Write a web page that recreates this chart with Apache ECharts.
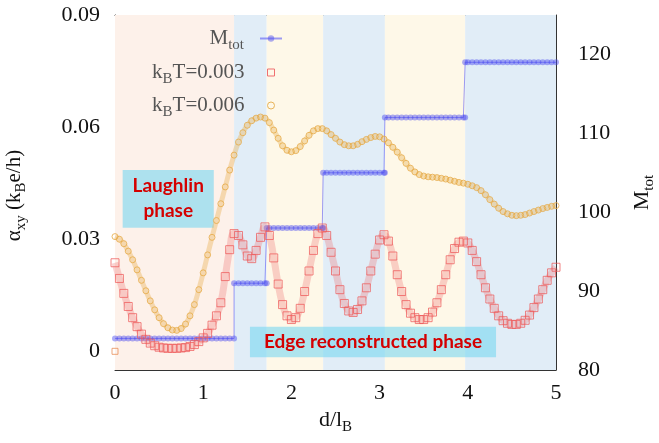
<!DOCTYPE html>
<html><head><meta charset="utf-8">
<script src="https://cdn.jsdelivr.net/npm/echarts@6/dist/echarts.min.js"></script>
<style>html,body{margin:0;padding:0;background:#fff}#c{width:659px;height:443px}</style>
</head><body><div id="c"></div>
<script>
// x positions d/l_B
const dValues = [0,0.05,0.1,0.15,0.2,0.25,0.3,0.35,0.4,0.45,0.5,0.55,0.6,0.65,0.7,0.75,0.8,0.85,0.9,0.95,
1,1.05,1.1,1.15,1.2,1.25,1.3,1.35,1.4,1.45,1.5,1.55,1.6,1.65,1.7,1.75,1.8,1.85,1.9,1.95,
2,2.05,2.1,2.15,2.2,2.25,2.3,2.35,2.4,2.45,2.5,2.55,2.6,2.65,2.7,2.75,2.8,2.85,2.9,2.95,
3,3.05,3.1,3.15,3.2,3.25,3.3,3.35,3.4,3.45,3.5,3.55,3.6,3.65,3.7,3.75,3.8,3.85,3.9,3.95,
4,4.05,4.1,4.15,4.2,4.25,4.3,4.35,4.4,4.45,4.5,4.55,4.6,4.65,4.7,4.75,4.8,4.85,4.9,4.95,5];
// alpha_xy, kBT = 0.003
const alpha003 = [0.0237,0.0195,0.0155,0.0120,0.0090,0.0066,0.0046,0.0032,0.0022,0.0015,
0.0011,0.0009,0.0008,0.0008,0.0008,0.0009,0.0010,0.0013,0.0018,0.0026,
0.0036,0.0048,0.0070,0.0095,0.0130,0.0200,0.0272,0.0315,0.0310,0.0285,
0.0255,0.0248,0.0270,0.0305,0.0333,0.0310,0.0250,0.0180,0.0125,0.0095,
0.0085,0.0090,0.0115,0.0160,0.0215,0.0270,0.0315,0.0330,0.0310,0.0265,
0.0215,0.0165,0.0128,0.0108,0.0104,0.0112,0.0135,0.0170,0.0215,0.0260,
0.0298,0.0312,0.0295,0.0255,0.0205,0.0160,0.0125,0.0102,0.0090,0.0085,
0.0085,0.0090,0.0105,0.0130,0.0165,0.0205,0.0245,0.0275,0.0292,0.0295,
0.0290,0.0270,0.0240,0.0205,0.0170,0.0140,0.0115,0.0095,0.0082,0.0075,
0.0072,0.0072,0.0075,0.0083,0.0097,0.0117,0.0140,0.0165,0.0190,0.0210,0.0225];
// alpha_xy, kBT = 0.006
const alpha006 = [0.0307,0.0300,0.0288,0.0268,0.0245,0.0218,0.0190,0.0162,0.0135,0.0111,
0.0090,0.0074,0.0063,0.0057,0.0056,0.0061,0.0073,0.0095,0.0125,0.0165,
0.0210,0.0258,0.0305,0.0350,0.0395,0.0440,0.0485,0.0525,0.0560,0.0585,
0.0605,0.0617,0.0624,0.0627,0.0624,0.0612,0.0592,0.0570,0.0550,0.0538,
0.0534,0.0537,0.0548,0.0563,0.0578,0.0590,0.0596,0.0596,0.0590,0.0580,
0.0570,0.0560,0.0553,0.0550,0.0550,0.0554,0.0561,0.0567,0.0572,0.0575,
0.0574,0.0568,0.0558,0.0546,0.0533,0.0518,0.0503,0.0490,0.0480,0.0473,
0.0469,0.0467,0.0466,0.0465,0.0463,0.0461,0.0458,0.0455,0.0452,0.0450,
0.0447,0.0443,0.0438,0.0430,0.0419,0.0406,0.0394,0.0383,0.0374,0.0368,
0.0364,0.0363,0.0364,0.0366,0.0370,0.0374,0.0378,0.0382,0.0385,0.0388,0.0390];
// M_tot plateaus
const mSegBounds = [0, 1.35, 1.72, 2.36, 3.06, 3.97, 5.0];
const mTotLevels = [84, 91, 98, 105, 112, 119];
// background phase bands
const bandBounds = [0, 1.35, 1.72, 2.36, 3.06, 3.97, 5.0];
const bandKinds = ['pink', 'blue', 'yellow', 'blue', 'yellow', 'blue'];
const originPoint = [[0, 0]];
// ticks
const xLabelTicks = [0, 1, 2, 3, 4, 5];
const xMinorTicks = [0,0.5,1,1.5,2,2.5,3,3.5,4,4.5,5];
const leftLabelTicks = [0, 0.03, 0.06, 0.09];
const leftMinorTicks = [0, 0.015, 0.03, 0.045, 0.06, 0.075, 0.09];
const rightLabelTicks = [80, 90, 100, 110, 120];
const rightMinorTicks = [80,82,84,86,88,90,92,94,96,98,100,102,104,106,108,110,112,114,116,118,120,122,124];
// annotation boxes [x0, y0, x1, y1]
const laughlinBox = [0.087, 0.0485, 1.12, 0.0331];
const edgeBox = [1.53, 0.0066, 4.32, -0.0016];

const bandColors = {pink: '#fdf1ea', blue: '#e1edf7', yellow: '#fef8e8'};
const serif = '"Liberation Serif", "Times New Roman", serif';

const mTotData = [];
for (let i = 0; i < mTotLevels.length; i++) {
  const a = mSegBounds[i], b = mSegBounds[i + 1];
  mTotData.push([a, mTotLevels[i]]);
  dValues.forEach(d => { if (d > a && d < b) mTotData.push([d, mTotLevels[i]]); });
  mTotData.push([b, mTotLevels[i]]);
}
const red = dValues.map((d, i) => [d, alpha003[i]]);
const orange = dValues.map((d, i) => [d, alpha006[i]]);

const bandAreas = bandKinds.map((k, i) => [
  {xAxis: bandBounds[i], itemStyle: {color: bandColors[k]}},
  {xAxis: bandBounds[i + 1]}
]);

const boxLabel = {
  show: true, position: 'inside', color: '#d40000', fontWeight: 'bold',
  fontFamily: 'Lato', fontSize: 19, lineHeight: 25
};
const boxAreas = [
  [{coord: [laughlinBox[0], laughlinBox[1]], itemStyle: {color: 'rgba(120,215,240,0.6)'},
    label: Object.assign({}, boxLabel, {formatter: 'Laughlin\nphase'})},
   {coord: [laughlinBox[2], laughlinBox[3]]}],
  [{coord: [edgeBox[0], edgeBox[1]], itemStyle: {color: 'rgba(120,215,240,0.6)'},
    label: Object.assign({}, boxLabel, {formatter: 'Edge reconstructed phase'})},
   {coord: [edgeBox[2], edgeBox[3]]}]
];

const subStyle = c => ({fontFamily: serif, fontSize: 15, color: c, padding: [14, 0, 0, 0]});
const legText = {fontFamily: serif, fontSize: 21, color: '#555', rich: {sub: subStyle('#555')}};
const axisNameStyle = extra => Object.assign({fontFamily: serif, fontSize: 22, color: '#111', rich: {sub: subStyle('#111')}}, extra || {});

const chart = echarts.init(document.getElementById('c'), null, {renderer: 'canvas'});
chart.setOption({
  animation: false,
  backgroundColor: '#fff',
  textStyle: {fontFamily: serif},
  grid: {left: 115, right: 103, top: 15, bottom: 73, show: false, containLabel: false, outerBoundsMode: 'none'},
  legend: [
    {data: ['M_tot'], orient: 'vertical', align: 'right', right: 376, top: 28, padding: 0,
     itemWidth: 22, itemHeight: 8,
     formatter: () => 'M{sub|tot}',
     textStyle: Object.assign({padding: [0, 11, 0, 0]}, legText)},
    {data: [{name: 'kBT=0.003', icon: 'rect', itemStyle: {color: 'rgba(0,0,0,0)', borderColor: '#f07070', borderWidth: 1}}],
     orient: 'vertical', align: 'right', right: 384, top: 62, padding: 0,
     itemWidth: 7, itemHeight: 7,
     formatter: () => 'k{sub|B}T=0.003',
     textStyle: Object.assign({padding: [0, 18, 0, 0]}, legText)},
    {data: [{name: 'kBT=0.006', icon: 'circle', itemStyle: {color: 'rgba(0,0,0,0)', borderColor: '#e8b45a', borderWidth: 1}}],
     orient: 'vertical', align: 'right', right: 384, top: 95, padding: 0,
     itemWidth: 7, itemHeight: 7,
     formatter: () => 'k{sub|B}T=0.006',
     textStyle: Object.assign({padding: [0, 18, 0, 0]}, legText)}
  ],
  xAxis: [
    {type: 'value', min: 0, max: 5, position: 'bottom',
     axisLine: {show: true, onZero: false, lineStyle: {color: '#333', width: 1}},
     axisTick: {show: true, inside: true, length: 5, customValues: xMinorTicks, lineStyle: {color: '#333'}},
     axisLabel: {customValues: xLabelTicks, fontFamily: serif, fontSize: 22, color: '#111', margin: 12},
     splitLine: {show: false},
     name: 'd/l{sub|B}', nameLocation: 'middle', nameGap: 36,
     nameTextStyle: axisNameStyle()},
    {type: 'value', min: 0, max: 5, position: 'top',
     axisLine: {show: true, onZero: false, lineStyle: {color: '#333', width: 1}},
     axisTick: {show: true, inside: true, length: 5, customValues: xMinorTicks, lineStyle: {color: '#333'}},
     axisLabel: {show: false}, splitLine: {show: false}}
  ],
  yAxis: [
    {type: 'value', min: -0.005, max: 0.09, position: 'left',
     axisLine: {show: true, onZero: false, lineStyle: {color: '#333', width: 1}},
     axisTick: {show: true, inside: true, length: 5, customValues: leftMinorTicks, lineStyle: {color: '#333'}},
     axisLabel: {customValues: leftLabelTicks, fontFamily: serif, fontSize: 22, color: '#111', margin: 15,
       formatter: v => v === 0 ? '0' : v.toFixed(2)},
     splitLine: {show: false},
     name: 'α{sub|xy} (k{sub|B}e/h)', nameLocation: 'middle', nameGap: 86, nameRotate: 90,
     nameTextStyle: axisNameStyle({fontSize: 21, padding: [0, 6, 0, 0]})},
    {type: 'value', min: 80, max: 125, position: 'right',
     axisLine: {show: true, onZero: false, lineStyle: {color: '#333', width: 1}},
     axisTick: {show: true, inside: true, length: 5, customValues: rightMinorTicks, lineStyle: {color: '#333'}},
     axisLabel: {customValues: rightLabelTicks, fontFamily: serif, fontSize: 22, color: '#111', margin: 22},
     splitLine: {show: false},
     name: 'M{sub|tot}', nameLocation: 'middle', nameGap: 72, nameRotate: 90,
     nameTextStyle: axisNameStyle()}
  ],
  series: [
    {name: 'bands', type: 'line', data: [], z: 0, silent: true,
     markArea: {silent: true, data: bandAreas}},
    {name: 'boxes', type: 'line', data: [], z: 1, silent: true,
     markArea: {silent: true, data: boxAreas}},
    {name: 'M_tot', type: 'line', yAxisIndex: 1, data: mTotData, z: 3,
     symbol: 'circle', symbolSize: 6, showSymbol: true, showAllSymbol: true,
     itemStyle: {color: 'rgba(70,70,240,0.45)'},
     lineStyle: {color: 'rgba(90,90,245,0.6)', width: 1}},
    {name: 'kBT=0.003', type: 'line', data: red, z: 4, smooth: true,
     symbol: 'rect', symbolSize: 8, showSymbol: true, showAllSymbol: true,
     itemStyle: {color: 'rgba(0,0,0,0)', borderColor: 'rgba(238,90,90,0.75)', borderWidth: 1},
     lineStyle: {width: 7, color: 'rgba(240,110,110,0.3)'}},
    {name: 'kBT=0.006', type: 'line', data: orange, z: 5, smooth: true,
     symbol: 'circle', symbolSize: 6, showSymbol: true, showAllSymbol: true,
     itemStyle: {color: 'rgba(0,0,0,0)', borderColor: 'rgba(230,170,70,0.8)', borderWidth: 1},
     lineStyle: {width: 5, color: 'rgba(232,178,85,0.4)'}},
    {name: 'origin', type: 'scatter', data: originPoint, z: 6,
     symbol: 'rect', symbolSize: 6,
     itemStyle: {color: 'rgba(0,0,0,0)', borderColor: '#e8905a', borderWidth: 1}}
  ]
});
</script></body></html>
